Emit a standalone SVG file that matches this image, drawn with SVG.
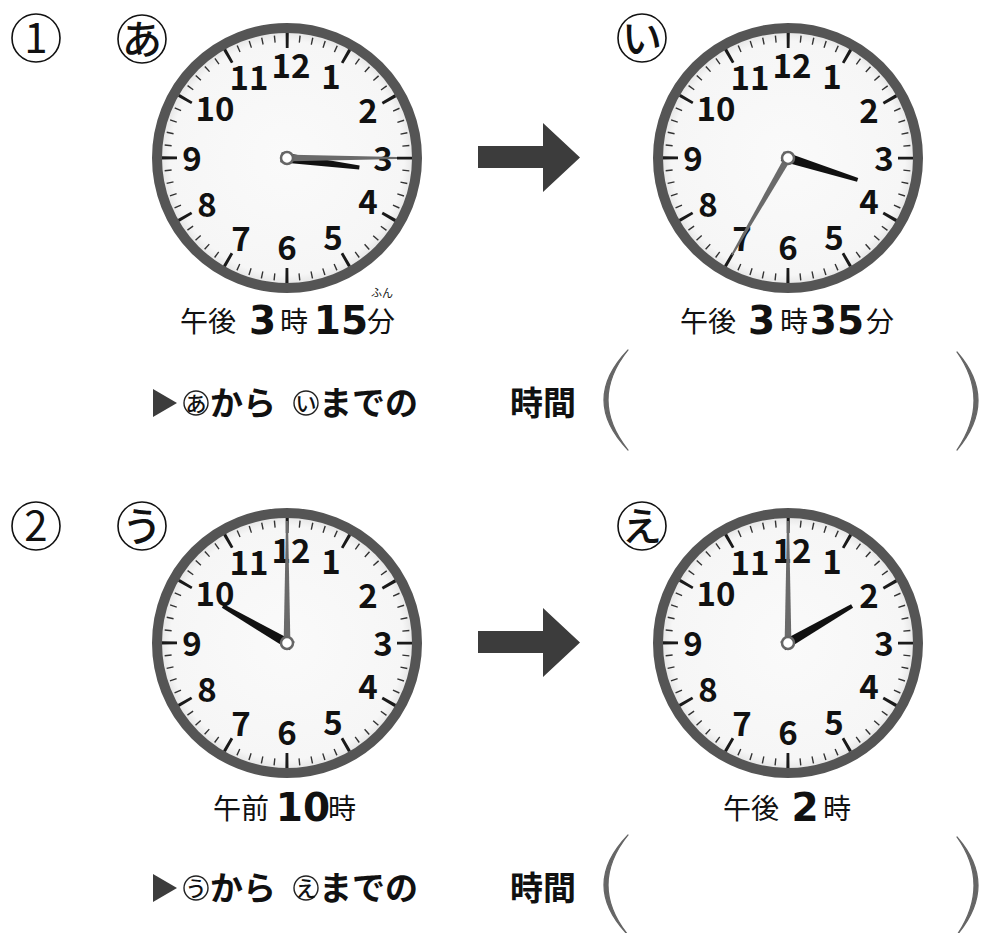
<svg xmlns="http://www.w3.org/2000/svg" xmlns:xlink="http://www.w3.org/1999/xlink" width="983" height="933" viewBox="0 0 983 933">
<style>
text{font-family:'Noto Sans CJK JP','Noto Sans',sans-serif;fill:#111}
.n{font-size:33px;font-weight:600;text-anchor:middle}
.hh{fill:#111}
.mh{fill:#6a6a6a}
.piv{fill:#fff;stroke:#666;stroke-width:2.5}
.ring{fill:none;stroke:#111;stroke-width:1.6}
.big{font-size:40px;font-weight:500;text-anchor:middle}
.num{font-size:42px;font-weight:400;text-anchor:middle}
.lk{font-size:28px;font-weight:400}
.ld{font-family:'DejaVu Sans','Noto Sans',sans-serif;font-size:39px;font-weight:700;text-anchor:middle}
.ruby{font-size:11px;text-anchor:middle}
.q{font-size:33px;font-weight:700}
.qs{font-size:21px;font-weight:500;text-anchor:middle}
.qc{fill:none;stroke:#222;stroke-width:1.4}
.arrow{fill:#3c3c3c}
.par{fill:#666;stroke:#666;stroke-width:1.2;stroke-linejoin:round}
</style>
<defs>
<radialGradient id="face" cx="0.5" cy="0.5" r="0.5">
<stop offset="0" stop-color="#fafafa"/>
<stop offset="0.9" stop-color="#f6f6f6"/>
<stop offset="0.97" stop-color="#e6e6e6"/>
<stop offset="1" stop-color="#d0d0d0"/>
</radialGradient>
<g id="dial">
<circle r="130" fill="url(#face)" stroke="#555" stroke-width="10"/>
<circle r="119.5" fill="none" stroke="#333" stroke-width="7" stroke-dasharray="1.4 11.114" stroke-dashoffset="0.7"/>
<circle r="117.5" fill="none" stroke="#1a1a1a" stroke-width="15" stroke-dasharray="3 58.52" stroke-dashoffset="1.5"/>
</g>
</defs>

<g id="label-1">
<circle class="ring" cx="36" cy="38" r="24"/>
<text class="num" x="36" y="53">1</text>
</g>
<g id="label-2">
<circle class="ring" cx="36" cy="526" r="24"/>
<text class="num" x="36" y="541">2</text>
</g>

<g id="clock-a" transform="translate(287,158)">
<use href="#dial"/>
<text class="n" x="4" y="-80">12</text><text class="n" x="44" y="-69">1</text><text class="n" x="81" y="-35">2</text><text class="n" x="96" y="13">3</text><text class="n" x="81" y="56">4</text><text class="n" x="46" y="92">5</text><text class="n" x="0" y="102">6</text><text class="n" x="-46" y="93">7</text><text class="n" x="-80" y="59">8</text><text class="n" x="-95" y="13">9</text><text class="n" x="-72" y="-37">10</text><text class="n" x="-38" y="-68">11</text>
<polygon class="hh" points="-5,6 5,6 2,-73 -2,-73" transform="rotate(97.5)"/>
<polygon class="mh" points="-3.5,6 3.5,6 1,-110 -1,-110" transform="rotate(90)"/>
<circle class="piv" r="6"/>
</g>
<g id="tag-a">
<circle class="ring" cx="142" cy="39" r="24"/>
<text class="big" x="142" y="54">あ</text>
</g>
<g id="time-a">
<text class="lk" x="180" y="332">午後</text>
<text class="ld" x="262.5" y="334">3</text>
<text class="lk" x="280" y="332">時</text>
<text class="ld" x="341" y="334">15</text>
<text class="lk" x="367" y="332">分</text>
<text class="ruby" x="382" y="297">ふん</text>
</g>

<g id="clock-i" transform="translate(788,158)">
<use href="#dial"/>
<text class="n" x="4" y="-80">12</text><text class="n" x="44" y="-69">1</text><text class="n" x="81" y="-35">2</text><text class="n" x="96" y="13">3</text><text class="n" x="81" y="56">4</text><text class="n" x="46" y="92">5</text><text class="n" x="0" y="102">6</text><text class="n" x="-46" y="93">7</text><text class="n" x="-80" y="59">8</text><text class="n" x="-95" y="13">9</text><text class="n" x="-72" y="-37">10</text><text class="n" x="-38" y="-68">11</text>
<polygon class="hh" points="-5,6 5,6 2,-73 -2,-73" transform="rotate(107.5)"/>
<polygon class="mh" points="-3.5,6 3.5,6 1,-112 -1,-112" transform="rotate(210)"/>
<circle class="piv" r="6"/>
</g>
<g id="tag-i">
<circle class="ring" cx="642" cy="38" r="24"/>
<text class="big" x="642" y="53">い</text>
</g>
<g id="time-i">
<text class="lk" x="680" y="332">午後</text>
<text class="ld" x="761.5" y="334">3</text>
<text class="lk" x="780" y="332">時</text>
<text class="ld" x="837" y="334">35</text>
<text class="lk" x="866" y="332">分</text>
</g>

<g id="clock-u" transform="translate(287,643)">
<use href="#dial"/>
<text class="n" x="4" y="-80">12</text><text class="n" x="44" y="-69">1</text><text class="n" x="81" y="-35">2</text><text class="n" x="96" y="13">3</text><text class="n" x="81" y="56">4</text><text class="n" x="46" y="92">5</text><text class="n" x="0" y="102">6</text><text class="n" x="-46" y="93">7</text><text class="n" x="-80" y="59">8</text><text class="n" x="-95" y="13">9</text><text class="n" x="-72" y="-37">10</text><text class="n" x="-38" y="-68">11</text>
<polygon class="hh" points="-5,6 5,6 2,-74 -2,-74" transform="rotate(300)"/>
<polygon class="mh" points="-3.5,6 3.5,6 1,-122 -1,-122"/>
<circle class="piv" r="6"/>
</g>
<g id="tag-u">
<circle class="ring" cx="142" cy="526" r="24"/>
<text class="big" x="142" y="541">う</text>
</g>
<g id="time-u">
<text class="lk" x="213" y="819">午前</text>
<text class="ld" x="303" y="821">10</text>
<text class="lk" x="328" y="819">時</text>
</g>

<g id="clock-e" transform="translate(788,643)">
<use href="#dial"/>
<text class="n" x="4" y="-80">12</text><text class="n" x="44" y="-69">1</text><text class="n" x="81" y="-35">2</text><text class="n" x="96" y="13">3</text><text class="n" x="81" y="56">4</text><text class="n" x="46" y="92">5</text><text class="n" x="0" y="102">6</text><text class="n" x="-46" y="93">7</text><text class="n" x="-80" y="59">8</text><text class="n" x="-95" y="13">9</text><text class="n" x="-72" y="-37">10</text><text class="n" x="-38" y="-68">11</text>
<polygon class="hh" points="-5,6 5,6 2,-74 -2,-74" transform="rotate(60)"/>
<polygon class="mh" points="-3.5,6 3.5,6 1,-122 -1,-122"/>
<circle class="piv" r="6"/>
</g>
<g id="tag-e">
<circle class="ring" cx="642" cy="526" r="24"/>
<text class="big" x="642" y="541">え</text>
</g>
<g id="time-e">
<text class="lk" x="723" y="819">午後</text>
<text class="ld" x="805" y="821">2</text>
<text class="lk" x="823" y="819">時</text>
</g>

<g id="connectors">
<polygon class="arrow" points="478,146 543,146 543,123 580,157.5 543,192 543,168 478,168"/>
<polygon class="arrow" points="478,631 543,631 543,608 580,642.5 543,677 543,653 478,653"/>
</g>

<g id="question-1">
<polygon class="arrow" points="153,389 153,417 177,403"/>
<circle class="qc" cx="196" cy="403" r="12"/>
<text class="qs" x="196" y="411">あ</text>
<text class="q" x="210" y="415">から</text>
<circle class="qc" cx="306" cy="403" r="12"/>
<text class="qs" x="306" y="411">い</text>
<text class="q" x="319" y="415">までの</text>
<text class="q" x="510" y="415">時間</text>
<path class="par" d="M628,350 Q580,400 628,450 Q588,400 628,350 Z"/>
<path class="par" d="M957,352 Q999,400 957,450 Q991,400 957,352 Z"/>
</g>

<g id="question-2">
<polygon class="arrow" points="153,874 153,902 177,888"/>
<circle class="qc" cx="196" cy="888" r="12"/>
<text class="qs" x="196" y="896">う</text>
<text class="q" x="210" y="900">から</text>
<circle class="qc" cx="306" cy="888" r="12"/>
<text class="qs" x="306" y="896">え</text>
<text class="q" x="319" y="900">までの</text>
<text class="q" x="510" y="900">時間</text>
<path class="par" d="M628,835 Q580,885 628,935 Q588,885 628,835 Z"/>
<path class="par" d="M957,837 Q999,885 957,935 Q991,885 957,837 Z"/>
</g>
</svg>
